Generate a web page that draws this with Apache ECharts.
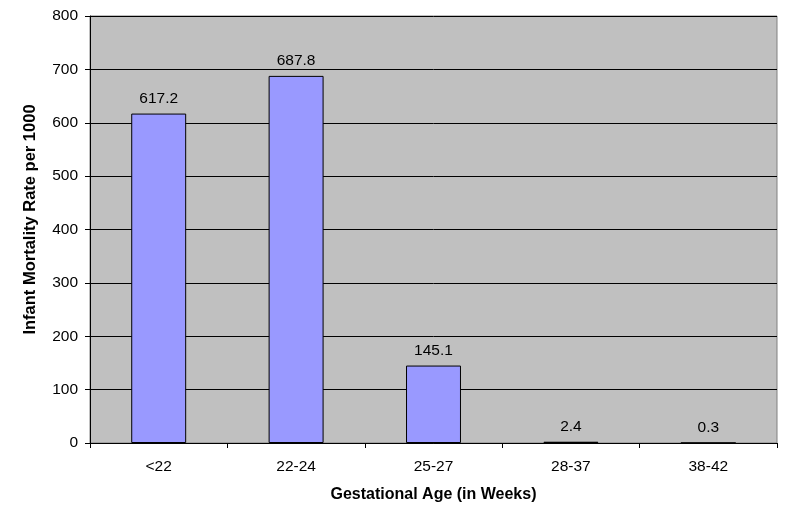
<!DOCTYPE html>
<html><head><meta charset="utf-8">
<script src="https://cdn.jsdelivr.net/npm/echarts@6/dist/echarts.min.js"></script>
<style>html,body{margin:0;padding:0;background:#fff}#c{width:785px;height:508px}</style>
</head><body><div id="c"></div>
<script>
const categories = ['<22', '22-24', '25-27', '28-37', '38-42'];
const rates = [617.2, 687.8, 145.1, 2.4, 0.3];
const yTicks = [0, 100, 200, 300, 400, 500, 600, 700, 800];

const chart = echarts.init(document.getElementById('c'));
const font = 'Liberation Sans, Arial, sans-serif';
chart.setOption({
  animation: false,
  textStyle: { fontFamily: font },
  grid: { left: 90, right: 8, top: 16, bottom: 63, show: true, backgroundColor: '#c0c0c0', borderColor: '#808080', borderWidth: 1 },
  xAxis: {
    type: 'category', data: categories,
    axisLine: { lineStyle: { color: '#000', width: 1 } },
    axisTick: { show: true, length: 5, lineStyle: { color: '#000' } },
    axisLabel: { color: '#000', fontSize: 15.5, margin: 16, fontFamily: font },
    name: 'Gestational Age (in Weeks)', nameLocation: 'middle', nameGap: 44,
    nameTextStyle: { color: '#000', fontSize: 16, fontWeight: 'bold', fontFamily: font }
  },
  yAxis: {
    type: 'value', min: yTicks[0], max: yTicks[yTicks.length - 1], interval: 100,
    axisLine: { show: true, lineStyle: { color: '#000' } },
    axisTick: { show: true, length: 5, lineStyle: { color: '#000' } },
    axisLabel: { color: '#000', fontSize: 15.5, margin: 12, fontFamily: font },
    splitLine: { lineStyle: { color: '#000', width: 1 } },
    name: 'Infant Mortality Rate per 1000', nameLocation: 'middle', nameGap: 51,
    nameTextStyle: { color: '#000', fontSize: 16.5, fontWeight: 'bold', fontFamily: font, padding: [0, 0, 0, 20] }
  },
  series: [{
    type: 'bar', data: rates, barWidth: '40%',
    itemStyle: { color: '#9999ff', borderColor: '#000', borderWidth: 1 },
    label: { show: true, position: 'top', distance: 7, color: '#000', fontSize: 15.5, fontFamily: font,
      formatter: p => p.value.toFixed(1) }
  }]
});
</script></body></html>
